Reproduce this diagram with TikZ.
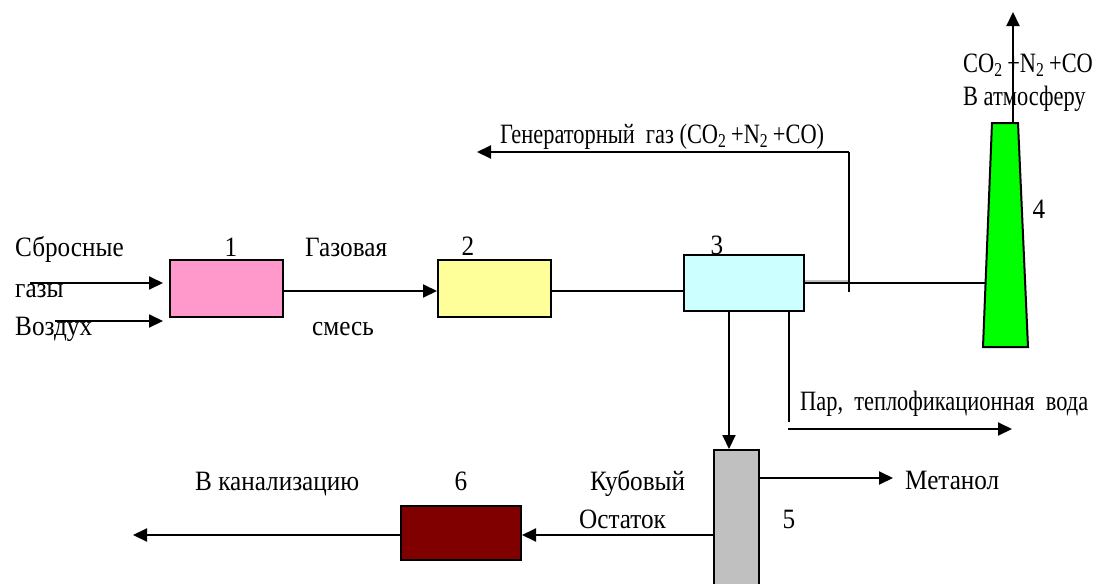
\documentclass[tikz,border=0pt]{standalone}
\usepackage{fontspec}
\setmainfont{Liberation Serif}[FakeStretch=0.9]
\newfontfamily\narrowserif{Liberation Serif}[FakeStretch=0.8]
\usetikzlibrary{arrows.meta}
\definecolor{boxpink}{HTML}{FF99CC}
\definecolor{boxyellow}{HTML}{FFFF99}
\definecolor{boxcyan}{HTML}{CCFFFF}
\definecolor{boxgreen}{HTML}{00FF00}
\definecolor{boxgray}{HTML}{C0C0C0}
\definecolor{boxred}{HTML}{800000}
\tikzset{
  unit/.style={draw=black, line width=2pt, rectangle, inner sep=0pt},
  flow/.style={line width=2pt},
  arr/.style={flow, -{Triangle[length=14pt,width=13pt]}},
  lbl/.style={inner sep=0pt, anchor=base west, font=\fontsize{28}{30}\selectfont},
  nlbl/.style={lbl, font=\fontsize{28}{30}\narrowserif},
}
\begin{document}
\begin{tikzpicture}[x=1pt,y=-1pt]
\useasboundingbox (0,0) rectangle (1096,584);

% apparatus
\node[unit, fill=boxpink,   minimum width=113pt, minimum height=57pt] (b1) at (226.5,288.5) {};
\node[unit, fill=boxyellow, minimum width=113pt, minimum height=57pt] (b2) at (494.5,288.5) {};
\node[unit, fill=boxcyan,   minimum width=120pt, minimum height=56pt] (b3) at (744,283) {};
\node[unit, fill=boxred,    minimum width=120pt, minimum height=54pt] (b6) at (461,533) {};
\node[unit, fill=boxgray,   minimum width=45pt,  minimum height=170pt] (b5) at (736.5,535) {};

% stack
\coordinate (s1) at (983,347);
\coordinate (s2) at (1028,347);
\coordinate (s3) at (1018,123);
\coordinate (s4) at (992,123);
\draw[line width=2pt, fill=boxgreen] (s1) -- (s2) -- (s3) -- (s4) -- cycle;
\coordinate (stacktop) at (1013,123);
\coordinate (stackin) at (985.5,283);

% inputs to 1
\coordinate (gin) at (30,283);
\coordinate (ain) at (55,321);
\draw[arr] (gin) -- ([xshift=-6pt]b1.west |- gin);
\draw[arr] (ain) -- ([xshift=-6pt]b1.west |- ain);

% 1 -> 2 -> 3
\coordinate (l12) at (b1.east |- 0,291);
\draw[arr] (l12) -- (b2.west |- l12);
\draw[flow] (b2.east |- l12) -- (b3.west |- l12);

% 3 -> stack, with offtake of generator gas
\coordinate (j) at (849,283);
\coordinate (jlow) at (849,292);
\coordinate (gtop) at (849,152);
\coordinate (gout) at (477,152);
\draw[line width=3.5pt, boxgray] ([yshift=1pt]b3.east) -- ([yshift=1pt]j);
\draw[flow] (b3.east) -- (stackin);
\draw[flow] (jlow) -- (gtop);
\draw[arr] (gtop) -- (gout);

% stack exhaust
\coordinate (sky) at (1013,12);
\draw[arr] (stacktop) -- (sky);

% 3 -> 5
\draw[arr] (b3.south -| 729,0) -- (b5.north -| 729,0);

% steam / heating water
\coordinate (w1) at (789,311);
\coordinate (w2) at (789,422);
\coordinate (w3) at (788,429);
\coordinate (w4) at (1012,429);
\draw[flow] (w1) -- (w2);
\draw[arr] (w3) -- (w4);

% 5 -> methanol, 5 -> 6 -> drain
\coordinate (meth) at (893,478);
\draw[arr] (b5.east |- meth) -- (meth);
\coordinate (res) at (0,535);
\draw[arr] (b5.west |- res) -- (b6.east |- res);
\coordinate (drain) at (133,535);
\draw[arr] (b6.west |- res) -- (drain);

% labels
\node[lbl] (t1) at (15,256) {Сбросные};
\node[lbl] (t2) at (15,297) {газы};
\node[lbl] (t3) at (15,335) {Воздух};
\node[lbl] (t4) at (305,256) {Газовая};
\node[lbl] (t5) at (312,335) {смесь};
\node[lbl, anchor=base] (n1) at (231,256) {1};
\node[lbl, anchor=base] (n2) at (468,255) {2};
\node[lbl, anchor=base] (n3) at (717,254) {3};
\node[lbl, anchor=base] (n4) at (1039,218) {4};
\node[lbl, anchor=base] (n5) at (789,528) {5};
\node[lbl, anchor=base] (n6) at (461,490) {6};
\node[nlbl] (t6) at (500,143) {Генераторный\ \ газ (CO\textsubscript{2}\,+N\textsubscript{2}\,+CO)};
\node[nlbl] (t7) at (963,72) {CO\textsubscript{2}\,+N\textsubscript{2}\,+CO};
\node[nlbl] (t8) at (963,105) {В атмосферу};
\node[nlbl] (t9) at (800,410) {Пар,\ \ теплофикационная\ \ вода};
\node[lbl] (t10) at (905,489) {Метанол};
\node[lbl] (t11) at (590,490) {Кубовый};
\node[lbl] (t12) at (579,528) {Остаток};
\node[lbl] (t13) at (195,490) {В канализацию};
\end{tikzpicture}
\end{document}
